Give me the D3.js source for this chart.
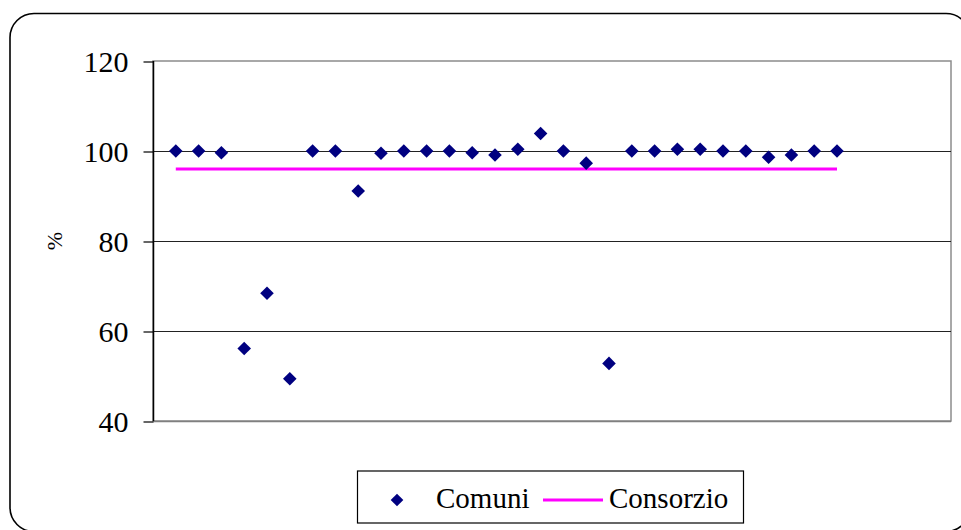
<!DOCTYPE html>
<html>
<head>
<meta charset="utf-8">
<script src="https://cdn.jsdelivr.net/npm/d3@7"></script>
<style>
  html, body { margin: 0; padding: 0; background: #fff; }
  svg { display: block; }
</style>
</head>
<body>
<svg id="chart" width="961" height="530"></svg>
<script>
// Percent value for each municipality (Comuni), in order 1..30
const comuniIndex = d3.range(1, 31);
const comuniValues = [100, 100, 99.6, 56.1, 68.4, 49.4, 100, 100, 91.1, 99.5,
                      100, 100, 100, 99.6, 99.1, 100.4, 103.9, 100, 97.3, 52.8,
                      100, 100, 100.4, 100.4, 100, 100, 98.6, 99.1, 100, 100];
// Consortium-wide value, drawn across the same span
const consorzioValue = 96;
const consorzioSpan = [1, 30];
const yTicks = [40, 60, 80, 100, 120];
const legendLabels = ["Comuni", "Consorzio"];

const svg = d3.select("#chart");
const plot = { left: 153, top: 61, right: 951, bottom: 421 };
const serif = "'Liberation Serif', 'Times New Roman', serif";

const x = d3.scaleLinear().domain([0, 35]).range([plot.left, plot.right]);
const y = d3.scaleLinear().domain([40, 120]).range([plot.bottom, plot.top]);

// Rounded outer frame
svg.append("rect")
  .attr("x", 10).attr("y", 13.5)
  .attr("width", 960).attr("height", 518)
  .attr("rx", 24).attr("ry", 24)
  .attr("fill", "#fff").attr("stroke", "#000").attr("stroke-width", 1.6);

// Plot area frame (top and right edges)
svg.append("rect")
  .attr("x", plot.left).attr("y", plot.top)
  .attr("width", plot.right - plot.left).attr("height", plot.bottom - plot.top)
  .attr("fill", "#fff").attr("stroke", "#8c8c8c").attr("stroke-width", 1.5);

// Horizontal gridlines
svg.append("g").selectAll("line")
  .data(yTicks.filter(t => t > 40 && t < 120))
  .join("line")
  .attr("x1", plot.left).attr("x2", plot.right)
  .attr("y1", d => y(d) + 0.5).attr("y2", d => y(d) + 0.5)
  .attr("stroke", "#222").attr("stroke-width", 1);

// Bottom axis line
svg.append("line")
  .attr("x1", plot.left).attr("x2", plot.right)
  .attr("y1", plot.bottom + 0.5).attr("y2", plot.bottom + 0.5)
  .attr("stroke", "#808080").attr("stroke-width", 1.5);

// Left axis
const yAxis = d3.axisLeft(y).tickValues(yTicks).tickSize(10).tickPadding(15);
const gy = svg.append("g")
  .attr("transform", `translate(${plot.left + 0.5},0)`)
  .call(yAxis);
gy.select(".domain").attr("stroke", "#000").attr("stroke-width", 1.5)
  .attr("d", `M0,${plot.top}V${plot.bottom}`);
gy.selectAll(".tick line").attr("stroke", "#000").attr("stroke-width", 1.2)
  .attr("transform", "translate(0,0.5)");
gy.selectAll(".tick text")
  .attr("font-family", serif)
  .attr("font-size", 30).attr("fill", "#000").attr("dy", "0.34em");

// Axis title
svg.append("text")
  .attr("transform", `translate(62,${y(80)}) rotate(-90)`)
  .attr("text-anchor", "middle")
  .attr("font-family", serif)
  .attr("font-size", 22).attr("fill", "#000")
  .text("%");

// Consorzio line
const line = d3.line().x(d => x(d[0])).y(d => y(d[1]));
svg.append("path")
  .datum(consorzioSpan.map(i => [i, consorzioValue]))
  .attr("d", line)
  .attr("fill", "none").attr("stroke", "#ff00ff").attr("stroke-width", 3);

// Comuni diamonds
const diamond = d3.symbol().type(d3.symbolSquare).size(92);
svg.append("g").selectAll("path")
  .data(comuniIndex.map((i, k) => [i, comuniValues[k]]))
  .join("path")
  .attr("d", diamond)
  .attr("transform", d => `translate(${x(d[0])},${y(d[1])}) rotate(45)`)
  .attr("fill", "#000080");

// Legend
const lg = svg.append("g");
lg.append("rect")
  .attr("x", 357.5).attr("y", 471)
  .attr("width", 386).attr("height", 52)
  .attr("fill", "#fff").attr("stroke", "#000").attr("stroke-width", 1.2);
lg.append("path")
  .attr("d", d3.symbol().type(d3.symbolSquare).size(80))
  .attr("transform", "translate(397,500) rotate(45)")
  .attr("fill", "#000080");
lg.append("text")
  .attr("x", 436).attr("y", 508)
  .attr("font-family", serif)
  .attr("font-size", 29).attr("fill", "#000")
  .text(legendLabels[0]);
lg.append("line")
  .attr("x1", 543).attr("x2", 603).attr("y1", 500).attr("y2", 500)
  .attr("stroke", "#ff00ff").attr("stroke-width", 3);
lg.append("text")
  .attr("x", 609).attr("y", 508)
  .attr("font-family", serif)
  .attr("font-size", 29).attr("fill", "#000")
  .text(legendLabels[1]);
</script>
</body>
</html>
